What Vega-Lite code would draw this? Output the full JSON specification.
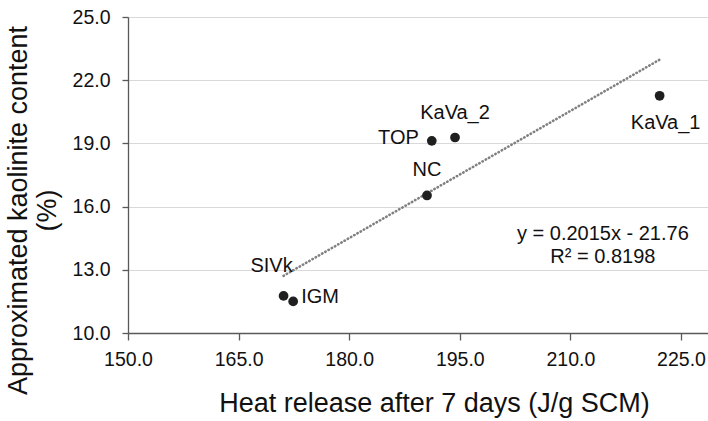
{
  "$schema": "https://vega.github.io/schema/vega-lite/v6.json",
  "autosize": {"type": "none"},
  "padding": {"left": 128, "top": 17, "right": 0, "bottom": 88},
  "width": 580,
  "height": 316,
  "background": "white",
  "config": {
    "view": {"stroke": null},
    "font": "Liberation Sans",
    "axis": {
      "domainColor": "#595959",
      "domainWidth": 1.3,
      "tickColor": "#595959",
      "tickWidth": 1.3,
      "labelFont": "Liberation Sans",
      "labelFontSize": 19.5,
      "labelColor": "#111111",
      "titleFont": "Liberation Sans",
      "titleFontSize": 27,
      "titleFontWeight": "normal",
      "titleColor": "#111111",
      "gridColor": "#d9d9d9",
      "gridWidth": 1
    }
  },
  "layer": [
    {
      "data": {
        "values": [
          {"sample": "KaVa_1", "heat": 222.1, "kaolinite": 21.26},
          {"sample": "KaVa_2", "heat": 194.35, "kaolinite": 19.28},
          {"sample": "TOP", "heat": 191.2, "kaolinite": 19.12},
          {"sample": "NC", "heat": 190.55, "kaolinite": 16.53},
          {"sample": "SIVk", "heat": 171.1, "kaolinite": 11.76},
          {"sample": "IGM", "heat": 172.4, "kaolinite": 11.5}
        ]
      },
      "encoding": {
        "x": {
          "field": "heat",
          "type": "quantitative",
          "scale": {"domain": [150, 228.66], "nice": false, "zero": false},
          "axis": {
            "title": "Heat release after 7 days (J/g SCM)",
            "values": [150, 165, 180, 195, 210, 225],
            "format": ".1f",
            "grid": false,
            "tickSize": 7,
            "labelPadding": 10,
            "labelFlush": false,
            "titleX": 306,
            "titleY": 78,
            "titleBaseline": "alphabetic"
          }
        },
        "y": {
          "field": "kaolinite",
          "type": "quantitative",
          "scale": {"domain": [10, 25], "nice": false, "zero": false},
          "axis": {
            "title": ["Approximated kaolinite content", "(%)"],
            "values": [10, 13, 16, 19, 22, 25],
            "format": ".1f",
            "grid": true,
            "tickSize": 6,
            "labelPadding": 12,
            "labelFlush": false,
            "titleX": -96,
            "titleY": 193,
            "titleAlign": "center",
            "titleLineHeight": 29
          }
        }
      },
      "layer": [
        {
          "transform": [{"regression": "kaolinite", "on": "heat"}],
          "mark": {"type": "line", "color": "#808080", "strokeWidth": 2.6, "strokeDash": [0.4, 3.3], "strokeCap": "round"}
        },
        {
          "mark": {"type": "point", "filled": true, "color": "#1f1f1f", "opacity": 1, "size": 95}
        },
        {
          "transform": [{"filter": "datum.sample === 'KaVa_2' || datum.sample === 'NC'"}],
          "mark": {"type": "text", "fontSize": 20, "color": "#111111", "dy": -25, "baseline": "middle"},
          "encoding": {"text": {"field": "sample"}}
        },
        {
          "transform": [{"filter": "datum.sample === 'KaVa_1'"}],
          "mark": {"type": "text", "fontSize": 20, "color": "#111111", "dx": 6, "dy": 27, "baseline": "middle"},
          "encoding": {"text": {"field": "sample"}}
        },
        {
          "transform": [{"filter": "datum.sample === 'TOP'"}],
          "mark": {"type": "text", "fontSize": 20, "color": "#111111", "align": "right", "dx": -13, "dy": -3, "baseline": "middle"},
          "encoding": {"text": {"field": "sample"}}
        },
        {
          "transform": [{"filter": "datum.sample === 'SIVk'"}],
          "mark": {"type": "text", "fontSize": 20, "color": "#111111", "dx": -12, "dy": -30, "baseline": "middle"},
          "encoding": {"text": {"field": "sample"}}
        },
        {
          "transform": [{"filter": "datum.sample === 'IGM'"}],
          "mark": {"type": "text", "fontSize": 20, "color": "#111111", "align": "left", "dx": 8, "dy": -4, "baseline": "middle"},
          "encoding": {"text": {"field": "sample"}}
        }
      ]
    },
    {
      "data": {"values": [{"heat": 214.4, "kaolinite": 14.7}]},
      "mark": {
        "type": "text",
        "fontSize": 20,
        "lineHeight": 23.5,
        "color": "#111111",
        "align": "center",
        "baseline": "middle"
      },
      "encoding": {
        "x": {"field": "heat", "type": "quantitative"},
        "y": {"field": "kaolinite", "type": "quantitative"},
        "text": {"value": ["y = 0.2015x - 21.76", "R² = 0.8198"]}
      }
    }
  ]
}
